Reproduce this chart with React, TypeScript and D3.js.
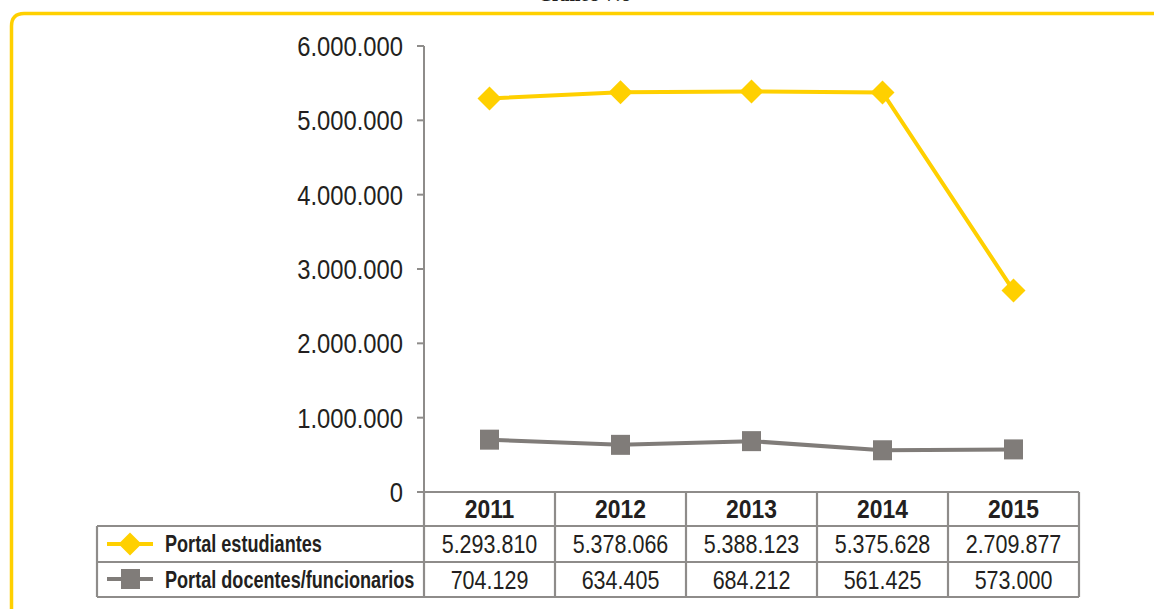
import React from 'react';
import * as d3 from 'd3';

const years = ['2011', '2012', '2013', '2014', '2015'];
const estudiantes = [5293810, 5378066, 5388123, 5375628, 2709877];
const docentes = [704129, 634405, 684212, 561425, 573000];
const seriesNames = ['Portal estudiantes', 'Portal docentes/funcionarios'];
const yTicks = [0, 1000000, 2000000, 3000000, 4000000, 5000000, 6000000];

const W = 1154;
const H = 609;
const YELLOW = '#FFD000';
const GRAY = '#807c79';
const BORDER = '#8e8c8a';
const TEXT = '#231f20';
const FONT = '"Liberation Sans", Arial, sans-serif';

const fmt = (v: number) => d3.format(',')(v).replace(/,/g, '.');

// condensed text: regular font squeezed horizontally
function T({ x, y, sx, size, anchor = 'start', bold = false, children }: {
  x: number; y: number; sx: number; size: number; anchor?: string; bold?: boolean; children: React.ReactNode;
}) {
  return (
    <text transform={`translate(${x},${y}) scale(${sx},1)`} dy="0.36em" textAnchor={anchor}
      fontFamily={FONT} fontWeight={bold ? 'bold' : 'normal'} fontSize={size} fill={TEXT}>{children}</text>
  );
}

export default function App() {
  const x = d3.scaleBand<string>().domain(years).range([424, 1079]).padding(0);
  const y = d3.scaleLinear().domain([0, 6000000]).range([492, 46]);
  const cx = (yr: string) => (x(yr) as number) + x.bandwidth() / 2;

  const line = d3.line<number>()
    .x((_, i) => cx(years[i]))
    .y(d => y(d));

  const rowTop = [492, 526, 562, 597];
  const legendLeft = 97;
  const axisX = x.range()[0];
  const tableRight = x.range()[1];

  const diamond = (px: number, py: number, r: number) =>
    `M${px},${py - r}L${px + r},${py}L${px},${py + r}L${px - r},${py}Z`;

  return (
    <svg width={W} height={H} style={{ position: 'absolute', left: 0, top: 0, background: '#fff' }}>
      {/* caption, cut off at top as in the source */}
      <text x={585} y={1} textAnchor="middle" fontFamily="DejaVu Serif, serif" fontWeight="bold" fontSize={15} fill={TEXT}>Gráfico 7.6</text>

      {/* yellow frame */}
      <path d={`M11.5,${H + 10}L11.5,26Q11.5,13.5 24,13.5L${W + 10},13.5`} fill="none" stroke={YELLOW} strokeWidth={3.5} />

      {/* y axis */}
      <line x1={axisX} x2={axisX} y1={y(6000000)} y2={y(0)} stroke={BORDER} strokeWidth={2} />
      {yTicks.map(t => (
        <g key={t}>
          <line x1={axisX - 7} x2={axisX} y1={y(t)} y2={y(t)} stroke={BORDER} strokeWidth={2} />
          <T x={403} y={y(t)} sx={0.85} size={28} anchor="end">{fmt(t)}</T>
        </g>
      ))}

      {/* series lines */}
      <path d={line(estudiantes) || ''} fill="none" stroke={YELLOW} strokeWidth={4} />
      <path d={line(docentes) || ''} fill="none" stroke={GRAY} strokeWidth={4} />
      {estudiantes.map((v, i) => (
        <path key={'e' + i} d={diamond(cx(years[i]), y(v), 12)} fill={YELLOW} />
      ))}
      {docentes.map((v, i) => (
        <rect key={'d' + i} x={cx(years[i]) - 9.5} y={y(v) - 10} width={19} height={20} fill={GRAY} />
      ))}

      {/* data table */}
      <g stroke={BORDER} strokeWidth={2.2} fill="none">
        <line x1={axisX} x2={tableRight} y1={rowTop[0]} y2={rowTop[0]} />
        <line x1={legendLeft} x2={tableRight} y1={rowTop[1]} y2={rowTop[1]} />
        <line x1={legendLeft} x2={tableRight} y1={rowTop[2]} y2={rowTop[2]} />
        <line x1={legendLeft} x2={tableRight} y1={rowTop[3]} y2={rowTop[3]} />
        <line x1={legendLeft} x2={legendLeft} y1={rowTop[1]} y2={rowTop[3]} />
        {years.map(yr => (
          <line key={yr} x1={(x(yr) as number) + x.bandwidth()} x2={(x(yr) as number) + x.bandwidth()} y1={rowTop[0]} y2={rowTop[3]} />
        ))}
        <line x1={axisX} x2={axisX} y1={rowTop[0]} y2={rowTop[3]} />
      </g>
      {years.map(yr => (
        <T key={yr} x={cx(yr)} y={(rowTop[0] + rowTop[1]) / 2} sx={0.88} size={26} anchor="middle" bold>{yr}</T>
      ))}
      {[estudiantes, docentes].map((vals, r) => (
        <g key={r}>
          {vals.map((v, i) => (
            <T key={i} x={cx(years[i])} y={(rowTop[r + 1] + rowTop[r + 2]) / 2} sx={0.86} size={25} anchor="middle">{fmt(v)}</T>
          ))}
        </g>
      ))}

      {/* legend keys */}
      <line x1={107} x2={153} y1={544} y2={544} stroke={YELLOW} strokeWidth={4} />
      <path d={diamond(130, 544, 11.5)} fill={YELLOW} />
      <line x1={107} x2={153} y1={579} y2={579} stroke={GRAY} strokeWidth={4} />
      <rect x={121} y={569} width={19} height={20} fill={GRAY} />
      {seriesNames.map((n, r) => (
        <T key={n} x={165} y={(rowTop[r + 1] + rowTop[r + 2]) / 2} sx={0.77} size={23.5} bold>{n}</T>
      ))}
    </svg>
  );
}
